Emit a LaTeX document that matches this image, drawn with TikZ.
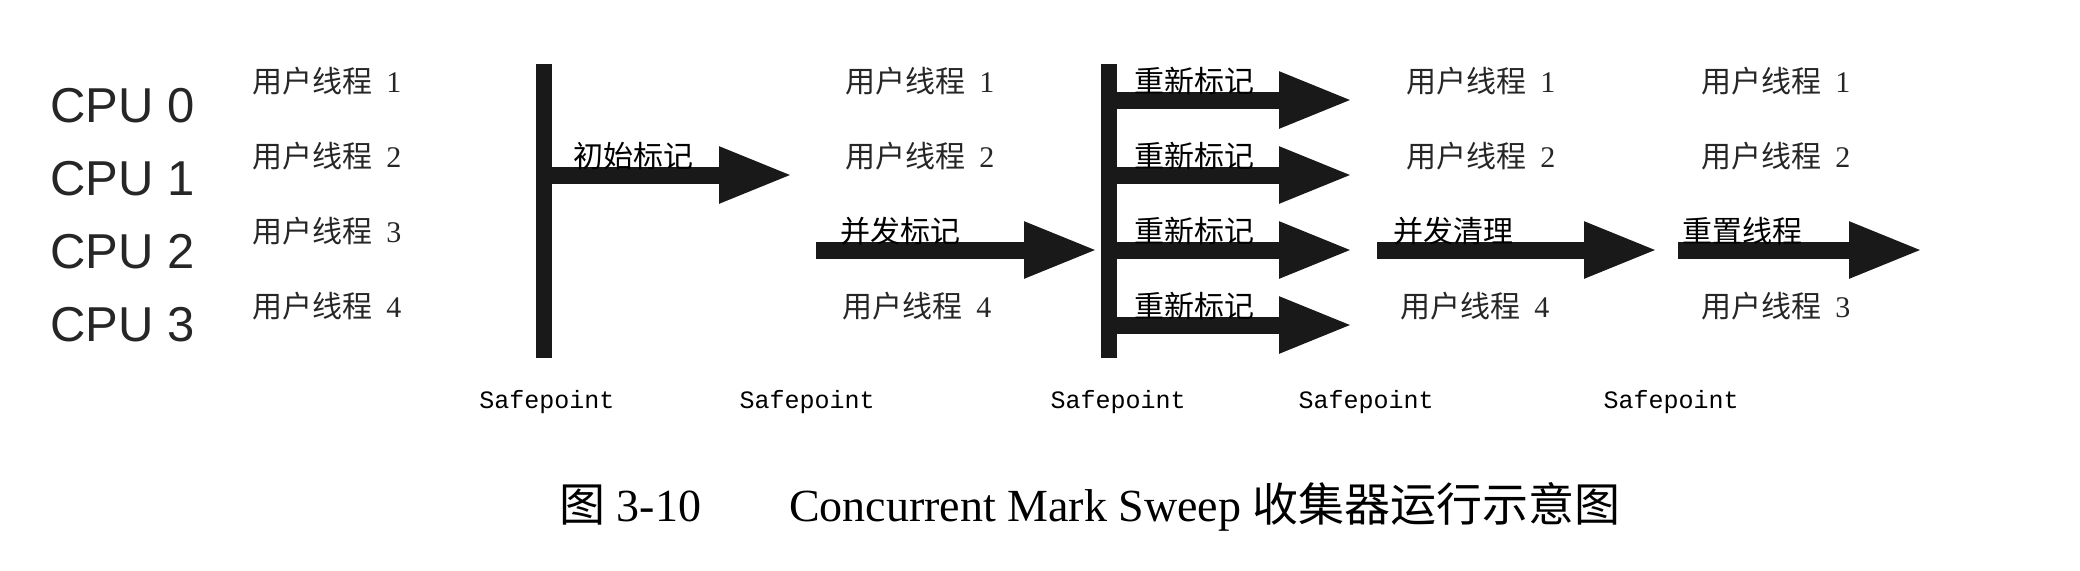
\documentclass[tikz,border=0pt]{standalone}
\usepackage{fontspec}
\setmainfont{Liberation Serif}
\setsansfont{Liberation Sans}
\setmonofont{Liberation Mono}
\newfontfamily\cjk{Noto Sans CJK SC}
\usetikzlibrary{arrows.meta,positioning}

\begin{document}
\begin{tikzpicture}[
        x=0.5pt, y=-0.5pt,
        cpu/.style={anchor=west, inner sep=0pt, text=black!85, font=\sffamily\fontsize{24.5}{26}\selectfont},
        thread/.style={anchor=west, inner sep=0pt, text=black!85, font=\cjk\fontsize{15}{16}\selectfont},
        phase/.style={thread, text=black},
        safept/.style={inner sep=0pt, text=black, font=\ttfamily\fontsize{12.5}{14}\selectfont},
        barline/.style={line width=8pt, draw=black!90},
        fatarrow/.style={line width=8.5pt, draw=black!90, -{Triangle[length=37pt, width=26pt]}}
    ]

    \useasboundingbox (0,0) rectangle (2080,570);

    % ==========================================
    % CPUs and first user threads
    % ==========================================
    \foreach \i/\y in {0/106, 1/179, 2/252, 3/325} {
        \node[cpu] (cpu\i) at (50, \y) {CPU \i};
    }
    \foreach \i/\y in {1/81, 2/156, 3/231, 4/306} {
        \node[thread] (ta\i) at (252, \y) {用户线程\hspace{7pt}\textrm{\i}};
    }

    % ==========================================
    % Safepoint 1: initial mark
    % ==========================================
    \coordinate (bar1top) at (544, 64);
    \coordinate (bar1bot) at (544, 358);
    \draw[barline] (bar1top) -- (bar1bot);

    \coordinate (init_s) at (544, 175);
    \coordinate (init_e) at (793, 175);
    \draw[fatarrow] (init_s) -- (init_e);
    \node[phase] (init_l) at (573, 156) {初始标记};

    % ==========================================
    % Concurrent mark
    % ==========================================
    \coordinate (cm_s) at (816, 250);
    \coordinate (cm_e) at (1098, 250);
    \draw[fatarrow] (cm_s) -- (cm_e);

    \node[thread] (tb1) at (845, 81) {用户线程\hspace{7pt}\textrm{1}};
    \node[thread] (tb2) at (845, 156) {用户线程\hspace{7pt}\textrm{2}};
    \node[phase] (cm_l) at (840, 231) {并发标记};
    \node[thread] (tb4) at (842, 306) {用户线程\hspace{7pt}\textrm{4}};

    % ==========================================
    % Safepoint 2: remark on every CPU
    % ==========================================
    \coordinate (bar2top) at (1109, 64);
    \coordinate (bar2bot) at (1109, 358);
    \draw[barline] (bar2top) -- (bar2bot);

    \foreach \k/\y in {1/100, 2/175, 3/250, 4/325} {
        \coordinate (rm_s\k) at (1109, \y);
        \coordinate (rm_e\k) at (1353, \y);
        \draw[fatarrow] (rm_s\k) -- (rm_e\k);
        \node[phase] (rm_l\k) at (1134, \y-19) {重新标记};
    }

    % ==========================================
    % Concurrent sweep
    % ==========================================
    \coordinate (cs_s) at (1377, 250);
    \coordinate (cs_e) at (1658, 250);
    \draw[fatarrow] (cs_s) -- (cs_e);

    \node[thread] (tc1) at (1406, 81) {用户线程\hspace{7pt}\textrm{1}};
    \node[thread] (tc2) at (1406, 156) {用户线程\hspace{7pt}\textrm{2}};
    \node[phase] (cs_l) at (1393, 231) {并发清理};
    \node[thread] (tc4) at (1400, 306) {用户线程\hspace{7pt}\textrm{4}};

    % ==========================================
    % Concurrent reset
    % ==========================================
    \coordinate (rs_s) at (1678, 250);
    \coordinate (rs_e) at (1923, 250);
    \draw[fatarrow] (rs_s) -- (rs_e);

    \node[thread] (td1) at (1701, 81) {用户线程\hspace{7pt}\textrm{1}};
    \node[thread] (td2) at (1701, 156) {用户线程\hspace{7pt}\textrm{2}};
    \node[phase] (rs_l) at (1682, 231) {重置线程};
    \node[thread] (td3) at (1701, 306) {用户线程\hspace{7pt}\textrm{3}};

    % ==========================================
    % Safepoint labels and caption
    % ==========================================
    \foreach \k/\x in {1/547, 2/807, 3/1118, 4/1366, 5/1671} {
        \node[safept] (sp\k) at (\x, 402) {Safepoint};
    }

    \node[inner sep=0pt, font=\fontsize{23}{25}\selectfont] (caption) at (1090, 507)
        {{\cjk 图} 3-10\hspace{44pt}Concurrent Mark Sweep {\cjk 收集器运行示意图}};

\end{tikzpicture}
\end{document}
